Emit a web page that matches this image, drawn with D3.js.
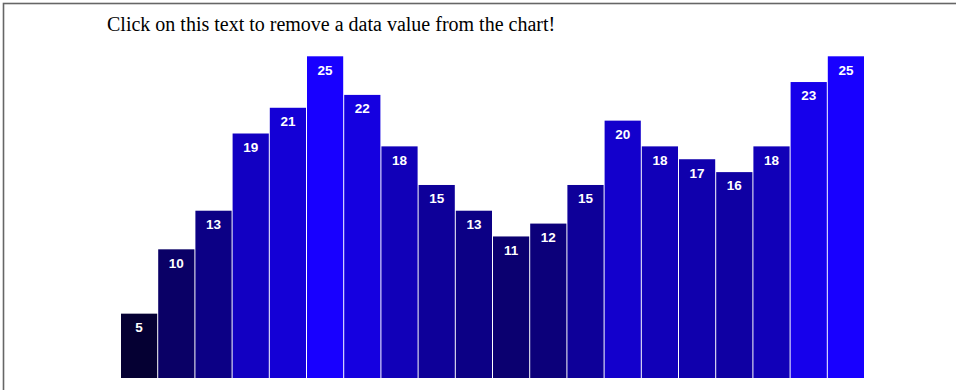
<!DOCTYPE html>
<html>
<head>
<meta charset="utf-8">
<script src="https://cdn.jsdelivr.net/npm/d3@7/dist/d3.min.js"></script>
<style>
  html, body { margin: 0; padding: 0; background: #fff; }
  svg { display: block; }
</style>
</head>
<body>
<svg id="chart" width="956" height="390"></svg>
<script>
// Data values shown as bars, in order
const dataset = [5, 10, 13, 19, 21, 25, 22, 18, 15, 13, 11, 12, 15, 20, 18, 17, 16, 18, 23, 25];
const barIndex = d3.range(dataset.length);
const titleText = "Click on this text to remove a data value from the chart!";

const svg = d3.select("#chart");

// Page frame
svg.append("rect")
  .attr("x", 3.5).attr("y", 3.5)
  .attr("width", 1000).attr("height", 1000)
  .attr("fill", "none")
  .attr("stroke", "#666")
  .attr("stroke-width", 1.6);

const x = d3.scaleBand()
  .domain(barIndex)
  .range([121, 865]);

const y = d3.scaleLinear()
  .domain([0, d3.max(dataset)])
  .range([378, 56.3]);

const color = d3.scaleLinear()
  .domain([0, d3.max(dataset)])
  .range(["rgb(0,0,0)", "rgb(24,0,255)"]);

svg.selectAll("rect.bar")
  .data(dataset)
  .enter()
  .append("rect")
  .attr("class", "bar")
  .attr("x", (d, i) => x(i))
  .attr("y", d => y(d))
  .attr("width", x.bandwidth() - 1)
  .attr("height", d => y(0) - y(d))
  .attr("fill", d => color(d));

svg.selectAll("text.value")
  .data(dataset)
  .enter()
  .append("text")
  .attr("class", "value")
  .attr("x", (d, i) => x(i) + (x.bandwidth() - 1) / 2)
  .attr("y", d => y(d) + 18.3)
  .attr("text-anchor", "middle")
  .attr("font-family", "'Liberation Sans', Arial, sans-serif")
  .attr("font-size", 13.5)
  .attr("font-weight", "bold")
  .attr("fill", "#fff")
  .text(d => d);

svg.append("text")
  .attr("x", 107)
  .attr("y", 31)
  .attr("font-family", "'Liberation Serif', 'Times New Roman', serif")
  .attr("font-size", 20)
  .attr("fill", "#000")
  .style("cursor", "pointer")
  .text(titleText);
</script>
</body>
</html>
